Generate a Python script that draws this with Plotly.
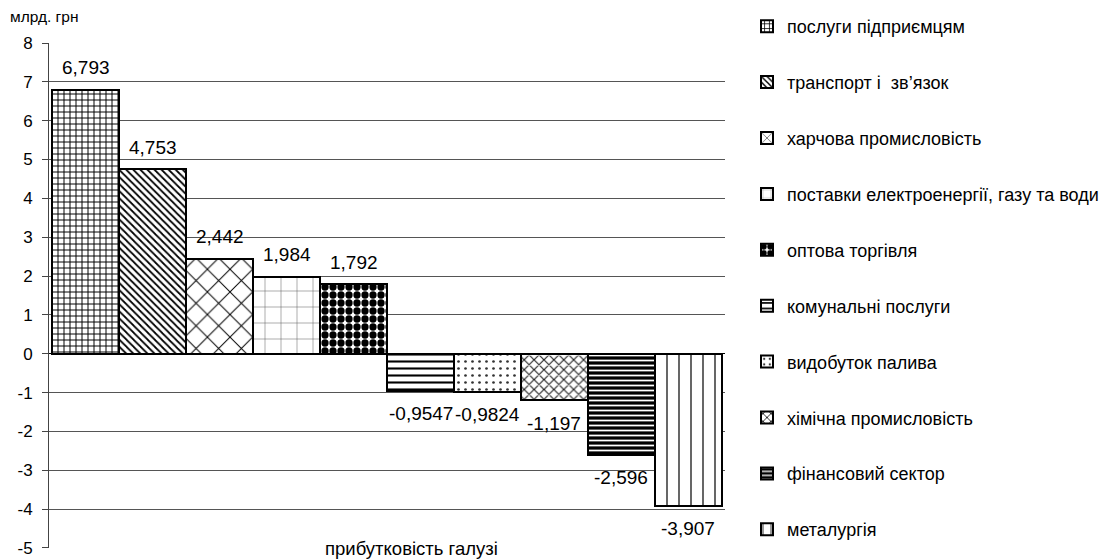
import plotly.graph_objects as go

sectors = ["послуги підприємцям", "транспорт і  зв’язок", "харчова промисловість",
           "поставки електроенергії, газу та води", "оптова торгівля", "комунальні послуги",
           "видобуток палива", "хімічна промисловість", "фінансовий сектор", "металургія"]
values = [6.793, 4.753, 2.442, 1.984, 1.792, -0.9547, -0.9824, -1.197, -2.596, -3.907]
labels = ["6,793", "4,753", "2,442", "1,984", "1,792", "-0,9547", "-0,9824", "-1,197", "-2,596", "-3,907"]
y_ticks = list(range(-5, 9))
category = "прибутковість галузі"

patterns = [
    dict(shape="+", size=6, solidity=0.3, fgcolor="black", bgcolor="white"),
    dict(shape="\\", size=5, solidity=0.35, fgcolor="black", bgcolor="white"),
    dict(shape="x", size=16, solidity=0.12, fgcolor="black", bgcolor="white"),
    dict(shape="+", size=16, solidity=0.06, fgcolor="#555", bgcolor="white"),
    dict(shape=".", size=8, solidity=0.65, fgcolor="black", bgcolor="white"),
    dict(shape="-", size=7, solidity=0.3, fgcolor="black", bgcolor="white"),
    dict(shape=".", size=7, solidity=0.12, fgcolor="#333", bgcolor="white"),
    dict(shape="x", size=7, solidity=0.3, fgcolor="#222", bgcolor="white"),
    dict(shape="-", size=5, solidity=0.35, fgcolor="white", bgcolor="black"),
    dict(shape="|", size=12, solidity=0.1, fgcolor="black", bgcolor="white"),
]

FONT = "Arial, Liberation Sans, sans-serif"
W, H = 1109, 559
# plot area in page pixels
L, R, T, B = 49, 725, 43, 548
fig = go.Figure()
for i, (name, v) in enumerate(zip(sectors, values)):
    fig.add_trace(go.Bar(
        x=[i], y=[v], width=1, name=name, legendgroup=name,
        marker=dict(color="white", line=dict(color="black", width=2),
                    pattern=dict(fillmode="replace", **patterns[i])),
    ))
    fig.add_annotation(x=i, y=v, text=labels[i], showarrow=False,
                       yshift=22 if v > 0 else -23,
                       font=dict(family=FONT, size=19, color="black"))

fig.add_annotation(xref="paper", yref="paper", x=(8 - L) / (R - L), y=(B - 17) / (B - T),
                   xanchor="left", yanchor="middle",
                   text="млрд. грн", showarrow=False, font=dict(family=FONT, size=15.5, color="black"))
fig.add_annotation(xref="paper", yref="paper", x=(411 - L) / (R - L), y=0, yshift=0, yanchor="middle",
                   text=category, showarrow=False, font=dict(family=FONT, size=18.5, color="black"))

fig.update_layout(
    width=W, height=H,
    margin=dict(l=L, r=W - R, t=T, b=H - B, autoexpand=False),
    paper_bgcolor="white", plot_bgcolor="white",
    font=dict(family=FONT, size=17, color="black"),
    showlegend=True,
    legend=dict(xref="container", yref="container", x=747 / W, y=1 - 8 / H,
                xanchor="left", yanchor="top", maxheight=H,
                tracegroupgap=29.5, font=dict(size=18), itemwidth=30,
                traceorder="grouped"),
    bargap=0,
)
fig.update_xaxes(range=[-0.545, 9.545], showticklabels=False, showgrid=False,
                 zeroline=False, showline=False, ticks="", automargin=False)
fig.update_yaxes(range=[-5.001, 8], tickvals=y_ticks, ticktext=[str(t) for t in y_ticks],
                 showgrid=True, gridcolor="#555", gridwidth=1,
                 zeroline=True, zerolinecolor="black", zerolinewidth=1,
                 showline=True, linecolor="#444", linewidth=1,
                 ticks="outside", ticklen=6, tickcolor="#444", ticklabelstandoff=6,
                 ticklabeloverflow="allow",
                 tickfont=dict(size=17), automargin=False)

fig.write_html("out.html", config={"displayModeBar": False},
               post_script="document.body.style.margin='0';document.body.style.overflow='hidden';")
